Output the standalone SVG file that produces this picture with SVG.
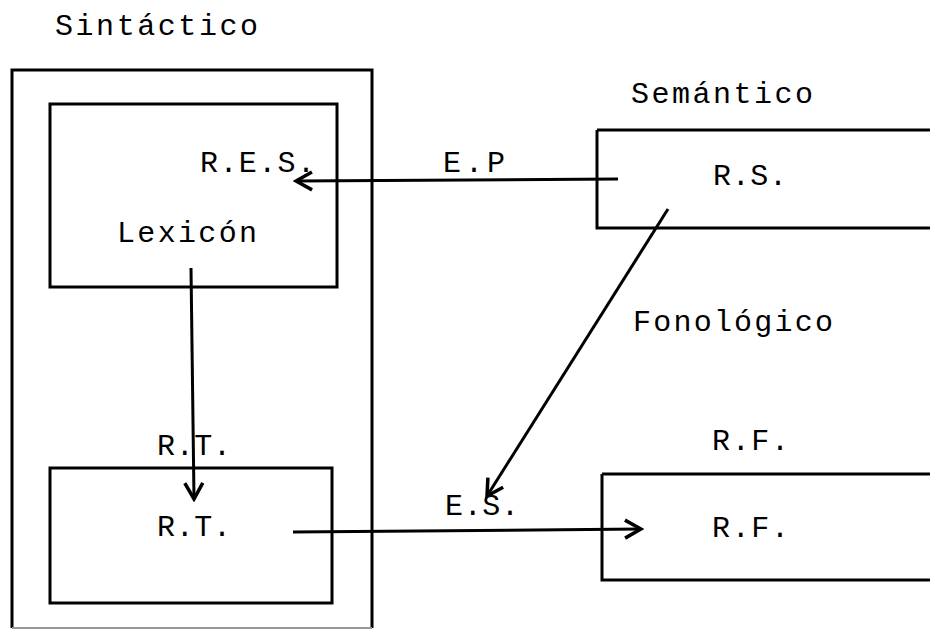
<svg xmlns="http://www.w3.org/2000/svg" width="930" height="630" viewBox="0 0 930 630">
<style>
.box{fill:none;stroke:#000;stroke-width:3}
.lbl{font-family:"Liberation Mono","Courier New",monospace;font-size:30px;fill:#000}
.con{fill:none;stroke:#000;stroke-width:3}
</style>
<defs>
<marker id="ah" viewBox="0 0 24 24" refX="21" refY="12" markerWidth="24" markerHeight="24" markerUnits="userSpaceOnUse" orient="auto">
<path d="M5,3 L21,12 L5,21" fill="none" stroke="#000" stroke-width="3.5"/>
</marker>
</defs>
<rect width="930" height="630" fill="#fff"/>
<g id="sintactico">
<path class="box" d="M12,628 L12,70 L372,70 L372,628"/>
<line x1="12" y1="628" x2="372" y2="628" stroke="#999" stroke-width="2"/>
<text class="lbl" x="55" y="35" textLength="203" lengthAdjust="spacing">Sintáctico</text>
</g>
<g id="lexicon">
<rect class="box" x="50" y="104" width="287" height="183"/>
<text class="lbl" x="200" y="172" textLength="115" lengthAdjust="spacing">R.E.S.</text>
<text class="lbl" x="117" y="242" textLength="140" lengthAdjust="spacing">Lexicón</text>
</g>
<g id="rt">
<rect class="box" x="50" y="468" width="282" height="135"/>
<text class="lbl" x="157" y="455" textLength="74" lengthAdjust="spacing">R.T.</text>
<text class="lbl" x="157" y="536" textLength="74" lengthAdjust="spacing">R.T.</text>
</g>
<g id="rs">
<path class="box" d="M597,130 L932,130 M597,130 L597,228 L932,228"/>
<text class="lbl" x="631" y="103" textLength="182" lengthAdjust="spacing">Semántico</text>
<text class="lbl" x="713" y="185" textLength="74" lengthAdjust="spacing">R.S.</text>
</g>
<g id="rf">
<path class="box" d="M602,474 L932,474 M602,474 L602,580 L932,580"/>
<text class="lbl" x="712" y="450" textLength="77" lengthAdjust="spacing">R.F.</text>
<text class="lbl" x="712" y="537" textLength="77" lengthAdjust="spacing">R.F.</text>
</g>
<g id="connectors">
<line class="con" x1="618" y1="179" x2="296" y2="181" marker-end="url(#ah)"/>
<text class="lbl" x="443" y="172" textLength="62" lengthAdjust="spacing">E.P</text>
<line class="con" x1="191" y1="268" x2="194" y2="499" marker-end="url(#ah)"/>
<line class="con" x1="668" y1="209" x2="487" y2="496" marker-end="url(#ah)"/>
<text class="lbl" x="633" y="331" textLength="200" lengthAdjust="spacing">Fonológico</text>
<line class="con" x1="293" y1="532" x2="641" y2="529" marker-end="url(#ah)"/>
<text class="lbl" x="445" y="515" textLength="74" lengthAdjust="spacing">E.S.</text>
</g>
</svg>
